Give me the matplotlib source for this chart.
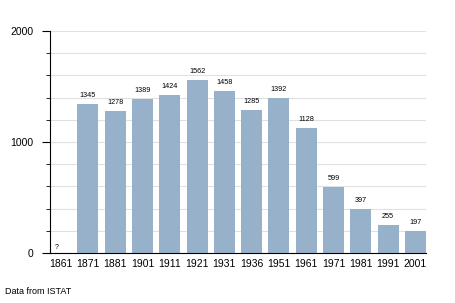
import matplotlib.pyplot as plt
import numpy as np

plt.rcParams['font.family'] = ['Liberation Sans', 'DejaVu Sans']

# census years and population (1861 unknown)
anni = ['1861', '1871', '1881', '1901', '1911', '1921', '1931',
        '1936', '1951', '1961', '1971', '1981', '1991', '2001']
abitanti = [None, 1345, 1278, 1389, 1424, 1562, 1458,
            1285, 1392, 1128, 599, 397, 255, 197]

fig = plt.figure(figsize=(4.55, 3.03), dpi=100)
ax = fig.add_axes([50/455, 50/303, 376/455, 222/303])

x = np.arange(len(anni))
valori = [v if v is not None else 0 for v in abitanti]
ax.bar(x, valori, width=0.77, color='#97b1cb', zorder=2)

for xi, v in zip(x, abitanti):
    if v is None:
        ax.text(xi - 0.2, 20, '?', fontsize=5, ha='left', va='bottom')
    else:
        ax.text(xi, v + 45, str(v), fontsize=5.2, ha='center', va='bottom')

ax.set_xlim(-0.385, len(anni) - 1 + 0.385)
ax.set_ylim(0, 2000)
ax.set_xticks(x)
ax.set_xticklabels(anni, fontsize=7.5)
ax.tick_params(axis='x', length=0, pad=4)
ax.set_yticks([0, 1000, 2000])
ax.set_yticks(np.arange(0, 2001, 200), minor=True)
ax.tick_params(axis='y', which='major', length=6, labelsize=7.5, pad=6)
ax.tick_params(axis='y', which='minor', length=3)
ax.grid(axis='y', which='both', color='#e0e0e0', linewidth=0.8, zorder=0)

for s in ['top', 'right']:
    ax.spines[s].set_visible(False)
ax.spines['left'].set_linewidth(0.8)
ax.spines['bottom'].set_linewidth(0.8)

fig.text(5/455, 1 - 292/303, 'Data from ISTAT', fontsize=6.5, va='center')

fig.savefig('out.png', dpi=100)
